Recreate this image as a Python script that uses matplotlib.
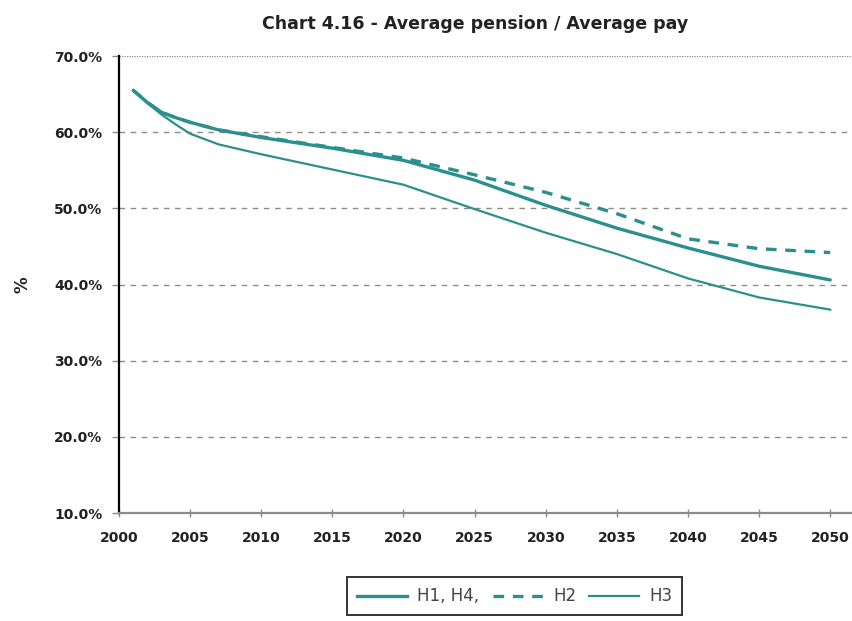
import matplotlib
matplotlib.use("Agg")
import matplotlib.pyplot as plt
from matplotlib.lines import Line2D

years = [2001, 2002, 2003, 2004, 2005, 2007, 2010, 2015, 2020, 2025, 2030, 2035, 2040, 2045, 2050]
h1_h4 = [65.5, 63.9, 62.6, 61.9, 61.3, 60.3, 59.3, 57.9, 56.3, 53.7, 50.4, 47.4, 44.8, 42.4, 40.6]
h2 = [65.5, 63.9, 62.6, 61.9, 61.3, 60.3, 59.4, 58.0, 56.6, 54.4, 52.1, 49.3, 46.0, 44.7, 44.2]
h3 = [65.5, 63.8, 62.3, 61.0, 59.8, 58.4, 57.1, 55.1, 53.1, 49.9, 46.8, 44.0, 40.8, 38.3, 36.7]

x_ticks = list(range(2000, 2051, 5))
y_ticks = [10, 20, 30, 40, 50, 60, 70]
y_tick_labels = ["10.0%", "20.0%", "30.0%", "40.0%", "50.0%", "60.0%", "70.0%"]

teal = "#2b8f8f"
grid_grey = "#8c8c8c"

fig = plt.figure(figsize=(8.53, 6.21), dpi=100)
ax = fig.add_axes([0.1395, 0.1739, 0.8605, 0.7359])

ax.plot(years, h1_h4, color=teal, lw=2.4, solid_capstyle="round", zorder=4)
ax.plot(years, h2, color=teal, lw=2.4, ls=(0, (3.2, 2.6)), zorder=3)
ax.plot(years, h3, color=teal, lw=1.6, zorder=4)

ax.set_xlim(2000, 2051.6)
ax.set_ylim(10, 70)
ax.set_xticks(x_ticks)
ax.set_yticks(y_ticks)
ax.set_yticklabels(y_tick_labels)

for y in [20, 30, 40, 50, 60]:
    ax.axhline(y, color=grid_grey, lw=1.0, ls=(0, (4, 4)), zorder=1)
ax.axhline(70, color=grid_grey, lw=0.9, ls=(0, (1, 1)), zorder=1)

for side in ("top", "right"):
    ax.spines[side].set_visible(False)
ax.spines["left"].set_color("black")
ax.spines["left"].set_linewidth(1.6)
ax.spines["bottom"].set_color(grid_grey)
ax.spines["bottom"].set_linewidth(1.6)

ax.tick_params(axis="x", direction="inout", length=6, width=1, color=grid_grey, pad=10)
ax.tick_params(axis="y", direction="out", length=5, width=1, color=grid_grey, pad=7)
for lbl in ax.get_xticklabels() + ax.get_yticklabels():
    lbl.set_fontsize(10)
    lbl.set_fontweight("bold")
    lbl.set_color("#222222")

ax.set_ylabel("%", fontsize=12, fontweight="bold", color="#222222", labelpad=16)

fig.text(0.557, 0.961, "Chart 4.16 - Average pension / Average pay",
         ha="center", va="center", fontsize=12.5, fontweight="bold",
         family="DejaVu Sans", color="#222222")

handles = [
    Line2D([], [], color=teal, lw=2.4),
    Line2D([], [], color=teal, lw=2.4, ls=(0, (3.2, 2.6))),
    Line2D([], [], color=teal, lw=1.6),
]
leg = fig.legend(handles, ["H1, H4,", "H2", "H3"], ncol=3,
                 loc="center", bbox_to_anchor=(0.6037, 0.0395),
                 frameon=True, fancybox=False, edgecolor="black",
                 fontsize=12, handlelength=3.0, handletextpad=0.6,
                 columnspacing=0.8, borderpad=0.6)
leg.get_frame().set_linewidth(1.4)
for t in leg.get_texts():
    t.set_color("#444444")

fig.savefig("out.png", dpi=100)
